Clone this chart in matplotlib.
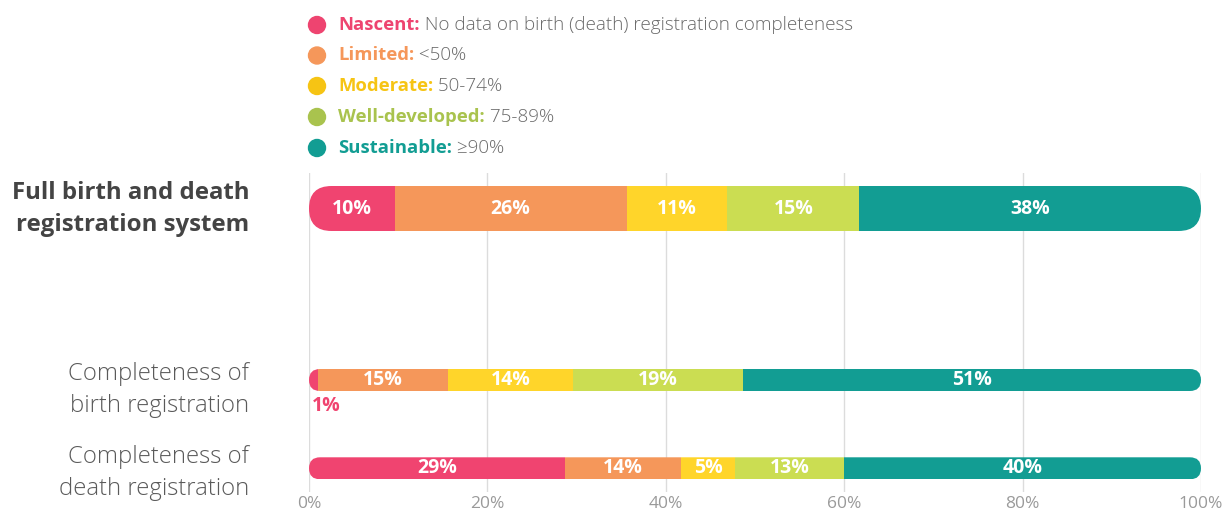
import matplotlib
matplotlib.use("Agg")
import matplotlib.pyplot as plt
from matplotlib.patches import FancyBboxPatch, Circle

# ---------------- data ----------------
categories = ["Full birth and death\nregistration system",
              "Completeness of\nbirth registration",
              "Completeness of\ndeath registration"]
levels = ["Nascent:", "Limited:", "Moderate:", "Well-developed:", "Sustainable:"]
level_desc = [" No data on birth (death) registration completeness",
              " <50%", " 50-74%", " 75-89%", " \u226590%"]
# segment widths (share of countries, %) as drawn
full_system = [9.6, 26.0, 11.3, 14.8, 38.3]
birth_reg = [1.0, 14.6, 14.0, 19.1, 51.3]
death_reg = [28.7, 13.0, 6.1, 12.2, 40.0]
# printed labels
full_labels = ["10%", "26%", "11%", "15%", "38%"]
birth_labels = ["1%", "15%", "14%", "19%", "51%"]
death_labels = ["29%", "14%", "5%", "13%", "40%"]
xticks = [0, 20, 40, 60, 80, 100]
xtick_labels = ["0%", "20%", "40%", "60%", "80%", "100%"]

# ---------------- styles ----------------
bar_colors = ["#F04470", "#F5975A", "#FFD52A", "#CBDD52", "#129D93"]
legend_colors = ["#EE4470", "#F5975A", "#F6C414", "#A9C34E", "#129D93"]
W, H = 1228, 513
FONT = "Open Sans"

fig = plt.figure(figsize=(W / 100, H / 100), dpi=100)
x0, x1 = 309, 1201
ytop, ybot = 172.5, 492
ax = fig.add_axes([x0 / W, 1 - ybot / H, (x1 - x0) / W, (ybot - ytop) / H])
ax.set_xlim(0, 100)
ax.set_ylim(ybot, ytop)   # y in pixel rows
px_per_x = (x1 - x0) / 100.0

rows = [(full_system, full_labels, 208.5, 45, True, 209),
        (birth_reg, birth_labels, 380, 22, False, 390),
        (death_reg, death_labels, 468.3, 22, False, 473)]

for (vals, labs, yc, h, big, ylab), cat in zip(rows, categories):
    r = (h / 2) / px_per_x
    clip = FancyBboxPatch((0, yc - h / 2), 100, h,
                          boxstyle=f"round,pad=0,rounding_size={r}",
                          mutation_aspect=px_per_x,
                          transform=ax.transData, facecolor="none", edgecolor="none")
    left = 0
    for v, lab, c in zip(vals, labs, bar_colors):
        bars = ax.barh(yc, v, left=left, height=h, color=c, linewidth=0, zorder=2)
        for b in bars:
            b.set_clip_path(clip)
        if v >= 3:
            ax.text(left + v / 2, yc, lab, ha="center", va="center", color="white",
                    fontsize=14, fontweight="bold", family=FONT, zorder=3)
        else:
            ax.text(left + 0.35, yc + h / 2 + 15, lab, ha="left", va="center", color=c,
                    fontsize=14, fontweight="bold", family=FONT, zorder=3)
        left += v
    # category label
    fig.text(249 / W, 1 - ylab / H, cat, ha="right", va="center",
             fontsize=17.3 if big else 17.2, family=FONT,
             fontweight="bold" if big else "light",
             color="#444444" if big else "#5a5a5a",
             linespacing=1.42)

ax.set_xticks(xticks)
ax.set_xticklabels(xtick_labels, color="#9a9a9a", fontsize=12.5, family=FONT)
ax.tick_params(axis="x", length=0, pad=3)
ax.set_yticks([])
for s in ax.spines.values():
    s.set_visible(False)
ax.xaxis.grid(True, color="#dcdcdc", linewidth=1)
ax.set_axisbelow(True)

# ---------------- legend ----------------
lax = fig.add_axes([0, 0, 1, 1])
lax.set_xlim(0, W)
lax.set_ylim(H, 0)
lax.axis("off")
leg_y = [25, 55.5, 86, 117, 148]
for name, desc, c, y in zip(levels, level_desc, legend_colors, leg_y):
    lax.add_patch(Circle((317, y), 8.5, color=c))
    t1 = lax.text(338, y, name, ha="left", va="center", color=c,
                  fontsize=13.3, fontweight="bold", family=FONT)
    lax.annotate(desc, xy=(1, 0), xycoords=t1, ha="left", va="bottom",
                 color="#6a6a6a", fontsize=13.6, fontweight="light", family=FONT)

fig.savefig("out.png", dpi=100)
